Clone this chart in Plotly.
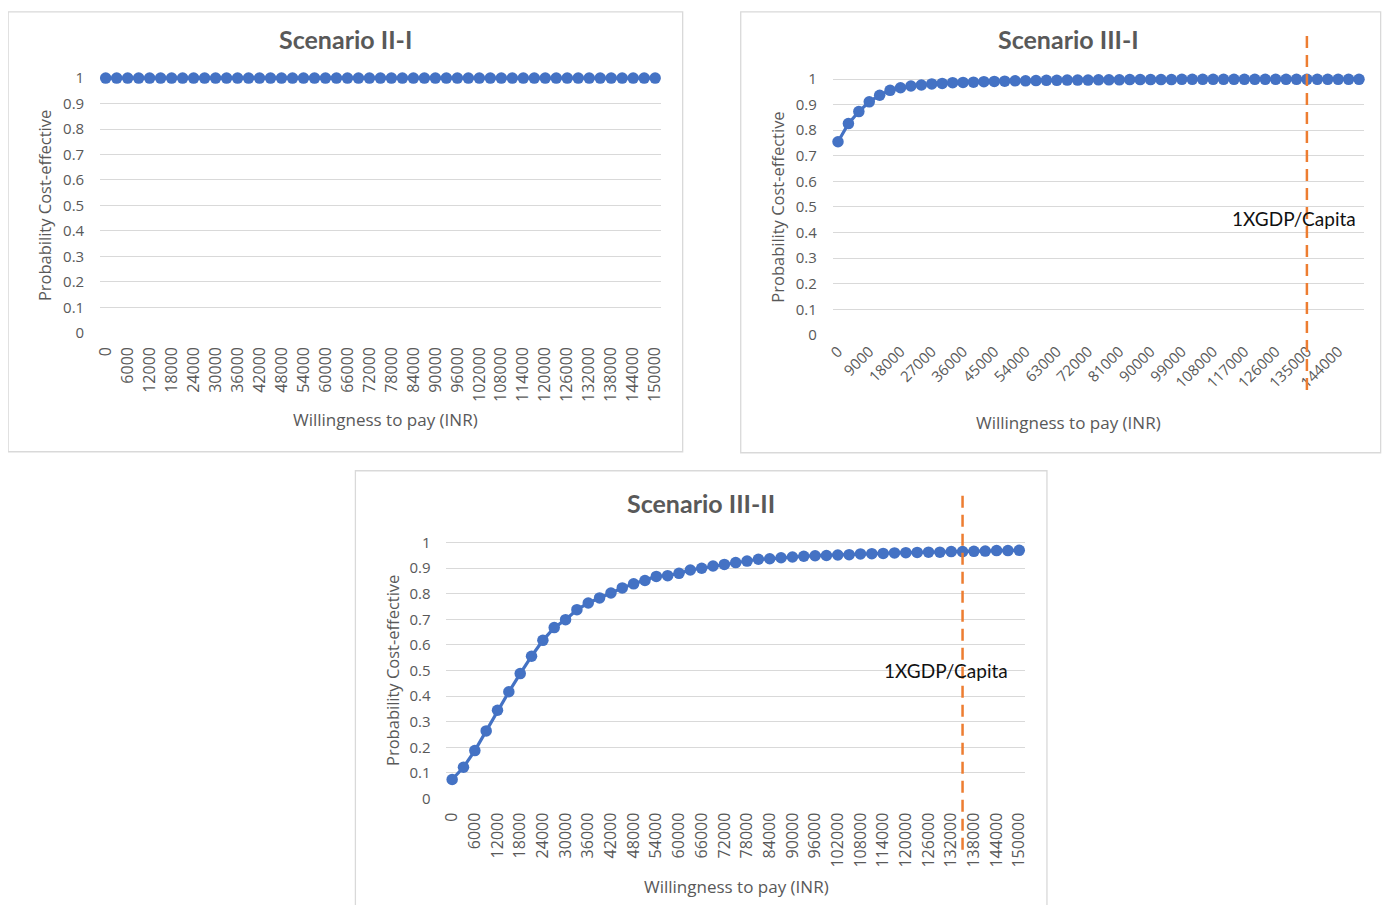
import plotly.graph_objects as go

W, H = 1395, 913      # reference picture size
OFF = 8               # default page margin of the html body
FW, FH = W - 2 * OFF, H - 2 * OFF
# measured capture mapping (photo = S * page + B)
SX, BX = 0.9905, 6.95
SY, BY = 0.9875, 1.96

wtp = ["0", "3000", "6000", "9000", "12000", "15000", "18000", "21000", "24000", "27000",
       "30000", "33000", "36000", "39000", "42000", "45000", "48000", "51000", "54000", "57000",
       "60000", "63000", "66000", "69000", "72000", "75000", "78000", "81000", "84000", "87000",
       "90000", "93000", "96000", "99000", "102000", "105000", "108000", "111000", "114000", "117000",
       "120000", "123000", "126000", "129000", "132000", "135000", "138000", "141000", "144000", "147000",
       "150000"]

scen_2_1 = [
    1.0, 1.0, 1.0, 1.0, 1.0, 1.0, 1.0, 1.0, 1.0, 1.0,
    1.0, 1.0, 1.0, 1.0, 1.0, 1.0, 1.0, 1.0, 1.0, 1.0,
    1.0, 1.0, 1.0, 1.0, 1.0, 1.0, 1.0, 1.0, 1.0, 1.0,
    1.0, 1.0, 1.0, 1.0, 1.0, 1.0, 1.0, 1.0, 1.0, 1.0,
    1.0, 1.0, 1.0, 1.0, 1.0, 1.0, 1.0, 1.0, 1.0, 1.0,
    1.0]

scen_3_1 = [
    0.755, 0.826, 0.873, 0.911, 0.937, 0.956, 0.966, 0.973, 0.977, 0.981,
    0.983, 0.986, 0.987, 0.988, 0.990, 0.991, 0.992, 0.993, 0.993, 0.994,
    0.995, 0.995, 0.996, 0.996, 0.996, 0.997, 0.997, 0.997, 0.998, 0.998,
    0.998, 0.998, 0.998, 0.999, 0.999, 0.999, 0.999, 0.999, 0.999, 0.999,
    0.999, 0.999, 0.999, 0.999, 0.999, 0.999, 0.999, 0.999, 0.999, 0.999,
    0.999]

scen_3_2 = [
    0.074, 0.122, 0.187, 0.264, 0.345, 0.417, 0.488, 0.556, 0.618, 0.668,
    0.699, 0.738, 0.764, 0.784, 0.803, 0.823, 0.839, 0.852, 0.868, 0.871,
    0.880, 0.893, 0.900, 0.909, 0.915, 0.922, 0.928, 0.935, 0.937, 0.941,
    0.944, 0.947, 0.949, 0.950, 0.952, 0.953, 0.956, 0.957, 0.958, 0.960,
    0.961, 0.962, 0.963, 0.963, 0.965, 0.965, 0.966, 0.967, 0.969, 0.969,
    0.970]

ticks_every2 = ["0", "6000", "12000", "18000", "24000", "30000", "36000", "42000", "48000",
                "54000", "60000", "66000", "72000", "78000", "84000", "90000", "96000", "102000",
                "108000", "114000", "120000", "126000", "132000", "138000", "144000", "150000"]
ticks_every3 = ["0", "9000", "18000", "27000", "36000", "45000", "54000", "63000", "72000",
                "81000", "90000", "99000", "108000", "117000", "126000", "135000", "144000"]

gdp_line = "135000"
gdp_label = "1XGDP/Capita"
titles = ["Scenario II-I", "Scenario III-I", "Scenario III-II"]
x_title = "Willingness to pay (INR)"
y_title = "Probability Cost-effective"

BLUE = "#4472C4"
ORANGE = "#ED7D31"
GRID = "#D9D9D9"
TXT = "#595959"
YTICKFONT = dict(family="Open Sans", size=15, color=TXT)
XTICKFONT_V = dict(family="Open Sans", size=16, color=TXT)
XTICKFONT_D = dict(family="Open Sans", size=15, color=TXT)


def px(x):
    return ((x - BX) / SX - OFF) / FW


def py(y):
    return 1 - ((y - BY) / SY - OFF) / FH


# plot areas: (left, right, y_at_1, y_at_0) in reference pixels
panels = [
    (100, 660, 77, 332),
    (832, 1363, 78, 334),
    (446, 1024, 542, 798),
]
YMAX = 1.03

fig = go.Figure()
series = [scen_2_1, scen_3_1, scen_3_2]
tickv = [ticks_every2, ticks_every3, ticks_every2]
tangle = [-90, -45, -90]
tfont = [XTICKFONT_V, XTICKFONT_D, XTICKFONT_V]
tstand = [10, 4, 10]

for i, (l, r, y1, y0) in enumerate(panels):
    k = "" if i == 0 else str(i + 1)
    fig.add_trace(go.Scatter(
        x=wtp, y=series[i], mode="lines+markers",
        line=dict(color=BLUE, width=3.2),
        marker=dict(color=BLUE, size=11.5),
        cliponaxis=False, showlegend=False,
        xaxis="x" + k, yaxis="y" + k))
    top = y0 - (y0 - y1) * YMAX
    fig.layout["xaxis" + k] = dict(
        domain=[px(l), px(r)], anchor="y" + k, type="category",
        range=[-0.5, len(wtp) - 0.5], tickmode="array", tickvals=tickv[i],
        ticktext=tickv[i], tickangle=tangle[i], tickfont=tfont[i],
        showgrid=False, showline=False, zeroline=False, ticks="",
        ticklabelstandoff=tstand[i])
    fig.layout["yaxis" + k] = dict(
        domain=[py(y0), py(top)], anchor="x" + k, range=[0, YMAX],
        tick0=0, dtick=0.1, tickformat="~g", tickfont=YTICKFONT,
        showgrid=True, gridcolor=GRID, gridwidth=1.3, zeroline=False,
        showline=False, ticks="", ticklabelstandoff=15)

# panel borders
borders = [(8, 6, 682, 451), (740, 6, 1391, 452), (355, 470, 1046, 940)]
for (x0, y0, x1, y1) in borders:
    fig.add_shape(type="rect", xref="paper", yref="paper",
                  x0=px(x0), x1=min(px(x1), 0.999), y0=min(py(y0), 0.999), y1=py(y1),
                  line=dict(color="#D9D9D9", width=1.3), fillcolor="rgba(0,0,0,0)", layer="below")

# titles
title_pos = [(345, 38), (1068, 38), (700, 502)]
for t, (x, y) in zip(titles, title_pos):
    fig.add_annotation(text="<b>" + t + "</b>", x=px(x), y=py(y), xref="paper", yref="paper",
                       showarrow=False, font=dict(family="Lato", size=25, color=TXT),
                       xanchor="center", yanchor="middle")

# axis titles
xt_pos = [(385, 419), (1068, 422), (736, 886)]
yt_pos = [(45, 205), (777, 206), (392, 670)]
for (x, y) in xt_pos:
    fig.add_annotation(text=x_title, x=px(x), y=py(y), xref="paper", yref="paper",
                       showarrow=False, xanchor="center", yanchor="middle",
                       font=dict(family="Open Sans", size=17, color=TXT))
for (x, y) in yt_pos:
    fig.add_annotation(text=y_title, x=px(x), y=py(y), xref="paper", yref="paper",
                       showarrow=False, textangle=-90, xanchor="center", yanchor="middle",
                       font=dict(family="Open Sans", size=16.5, color=TXT))

# GDP per capita dashed lines
gi = wtp.index(gdp_line)
for k, (ya, yb), (lx, ly) in [("2", (35, 390), (1293, 218)), ("3", (495, 850), (945, 670))]:
    fig.add_shape(type="line", xref="x" + k, yref="paper", x0=gi, x1=gi,
                  y0=py(ya), y1=py(yb), line=dict(color=ORANGE, width=2.5, dash="12px,7px"))
    fig.add_annotation(text=gdp_label, x=px(lx), y=py(ly), xref="paper", yref="paper",
                       showarrow=False, xanchor="center", yanchor="middle",
                       font=dict(family="Lato", size=19, color="#111111"))

fig.update_layout(width=FW, height=FH, margin=dict(l=0, r=0, t=0, b=0),
                  paper_bgcolor="white", plot_bgcolor="white")

fig.write_html("out.html")
